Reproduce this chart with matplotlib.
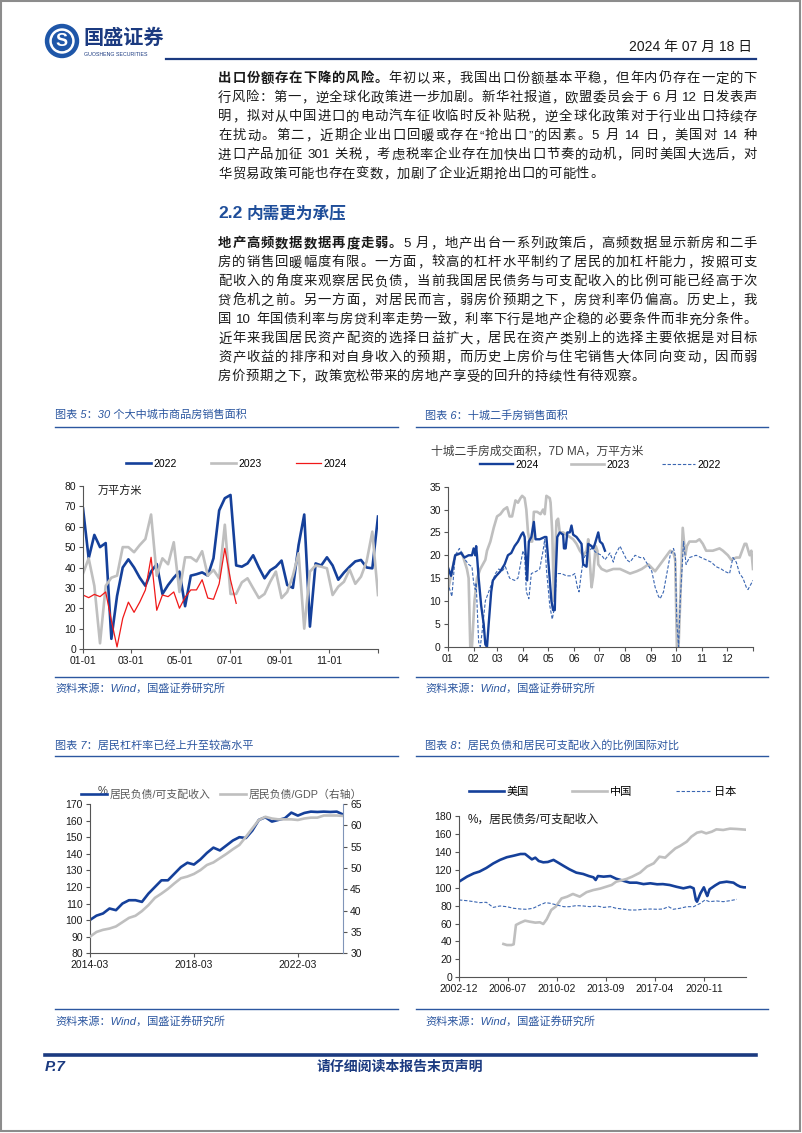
import numpy as np
import matplotlib
matplotlib.use('Agg')
import matplotlib.pyplot as plt
from matplotlib.patches import Rectangle, Circle

plt.rcParams['font.family'] = ['Liberation Sans', 'Noto Sans CJK SC', 'DejaVu Sans']

# ---------------- data ----------------
# chart 5: weekly sales, 30 cities (万平方米)
sales_2022 = [69, 44.5, 56, 50, 52, 5, 26, 40, 44, 40, 35, 31, 38, 41.7, 27, 31.4, 35, 38, 21, 36,
              36.7, 37.6, 36, 44.5, 68, 74, 75.6, 41, 40.4, 42, 46, 40, 34.7, 38.6, 40.4, 43.4, 31.4,
              30, 51, 66, 11, 42, 41, 45, 41, 34, 37.5, 40.4, 43, 43.7, 40, 39.6, 65]
sales_2023 = [37, 44.5, 31, 2.8, 31, 35, 36, 50, 50, 47.5, 51, 54, 66, 36, 44.5, 41.6, 52.4, 28, 45, 45,
              43, 48, 36, 38.8, 34.7, 61, 27, 27, 32.7, 34.7, 29.8, 25, 27, 33, 38, 25, 28, 36, 47, 10,
              38, 41, 40.4, 39.6, 26.5, 30.6, 33, 39, 32, 35.5, 43, 57.6, 26.5]
sales_2024 = [26.5, 25.2, 26.8, 25.7, 28, 14, 1, 15, 23, 18, 23, 29, 45, 19, 26.5, 25.7, 28, 20, 25.4,
              29, 29, 34, 25, 24.4, 32, 49.4, 34, 22.4]
month_days5 = [0, 59, 120, 181, 243, 304, 364]
month_lbl5 = ['01-01', '03-01', '05-01', '07-01', '09-01', '11-01', '']

# chart 6: ten-city second-hand sales, 7D MA (day of year, value)
days_2024 = [0, 4, 9, 16, 20, 25, 29, 31, 33, 34, 35, 37, 40, 43, 45, 47, 49, 52, 54, 58, 63, 68, 72,
             76, 80, 84, 88, 90, 92, 95, 97, 100, 103, 105, 110, 116, 118, 124, 126, 128, 129, 131,
             134, 138, 139, 141, 143, 146, 148, 150, 154, 158, 160, 162, 166, 168, 172, 174, 176,
             180, 182, 185, 188]
vals_2024 = [17.5, 15.5, 20, 20.5, 19.5, 20, 20, 21.5, 20, 22, 20, 15, 9, 5, 0.5, 0, 5, 12, 14.5,
             15.5, 16.5, 18, 20, 20.5, 22, 23, 24.5, 25, 24, 14.5, 23, 24, 27.3, 23.5, 23.5, 24, 24,
             10, 8, 8, 15, 24, 25, 24.5, 21.5, 21.5, 25, 25, 26.5, 24.5, 24, 23, 22.5, 18, 17.5,
             22.5, 22, 21.5, 22.5, 25, 23, 22.5, 21]
days_2023 = [0, 9, 17, 23, 25, 27, 29, 32, 35, 39, 45, 47, 51, 55, 59, 63, 67, 71, 74, 77, 81, 84, 87,
             89, 92, 94, 96, 98, 101, 103, 107, 111, 114, 116, 118, 122, 123, 125, 127, 128, 130,
             132, 134, 138, 142, 146, 150, 154, 158, 162, 166, 168, 172, 174, 175, 177, 179, 180,
             184, 190, 198, 206, 212, 218, 226, 232, 240, 248, 254, 260, 266, 270, 272, 274, 276,
             278, 281, 284, 286, 289, 297, 301, 305, 309, 317, 325, 329, 335, 339, 345, 349, 355,
             357, 361, 363, 365]
vals_2023 = [12, 20, 20.5, 17, 15, 0, 0, 10, 15, 17, 19, 21, 23, 26, 28.5, 29, 30, 30.5, 28.5, 28.5,
             32, 31.5, 32.5, 33, 32.5, 30, 25, 23, 23, 29.5, 29.5, 29, 30, 29, 33, 32.5, 31.5, 25, 10,
             17, 27.5, 28, 25, 25, 24.5, 24, 23.5, 22.5, 21, 20, 21, 23.5, 13, 15.5, 18, 22, 21, 18,
             17, 16.5, 17, 17, 16.5, 16, 16.5, 17, 18, 16.5, 18, 19.5, 21, 20.5, 19, 0, 0, 10, 26,
             20, 22, 23, 23, 23.5, 22.5, 21, 21, 21.5, 21, 20, 19, 19.5, 19.5, 22.5, 22.5, 20, 21, 17]
days_2022 = [0, 5, 9, 14, 17, 21, 25, 29, 31, 33, 34, 37, 39, 41, 45, 49, 53, 57, 61, 65, 69, 74, 80,
             84, 86, 90, 92, 94, 97, 100, 106, 110, 114, 116, 118, 122, 125, 128, 130, 136, 142, 148,
             152, 155, 157, 159, 162, 166, 172, 178, 184, 188, 194, 198, 200, 206, 210, 214, 218,
             224, 230, 234, 239, 244, 248, 252, 254, 258, 262, 266, 270, 272, 274, 276, 278, 282,
             285, 289, 297, 303, 309, 315, 321, 327, 331, 337, 341, 345, 349, 353, 357, 359, 365]
vals_2022 = [14, 11, 20, 21.5, 20.5, 19, 18, 17.5, 14, 12.5, 14, 1, 0, 3, 10, 12, 14, 16, 17, 16.5,
             17.5, 15, 14.5, 15, 17, 21, 20, 12, 10.5, 16, 16.5, 17, 21, 23.5, 17, 9, 6, 9, 16, 16,
             15.5, 15.5, 16, 13, 12, 15, 19, 20.5, 21.5, 20.5, 20, 19, 20.5, 18.5, 20, 22, 20.5, 19,
             18.5, 20, 19.5, 19.5, 18, 16.5, 13, 11, 10.5, 12, 16, 20, 21.5, 20, 5, 0, 10, 23, 18,
             19.5, 20, 19.5, 19, 18.5, 17.5, 17, 16.5, 16, 19.5, 18.5, 16, 15, 13, 12.5, 14.5]
month_days6 = [0, 31, 59, 90, 120, 151, 181, 212, 243, 273, 304, 334, 365]
month_lbl6 = ['01', '02', '03', '04', '05', '06', '07', '08', '09', '10', '11', '12', '']

# chart 7: household leverage, quarterly from 2014-03
debt_income = [100.1, 102.7, 104, 107, 106, 110, 112, 112, 111, 116, 120, 124, 124, 128, 132, 134.6,
               133.5, 136.6, 140.5, 143.7, 142, 145, 148, 150, 149.5, 154, 160.4, 162, 159.4, 160.4,
               161.4, 164.8, 163, 164.6, 165.4, 165.2, 165.4, 165.2, 165.4, 163.6]
debt_gdp = [33.9, 35, 35.5, 35.8, 36.3, 37.3, 38.3, 38.8, 39.9, 41.3, 43, 44, 45.1, 46.4, 47.6, 48,
            48.6, 49.5, 50.7, 51.3, 52.3, 53.3, 54.4, 55.4, 57.3, 59.3, 61.25, 62, 61.6, 61.4, 61.4,
            61.4, 61.25, 61.6, 61.8, 61.8, 62.3, 62.3, 62.3, 62.2]
q_ticks = [0, 16, 32]
q_lbl = ['2014-03', '2018-03', '2022-03']

# chart 8: debt / disposable income, months since 2002-12
us_m = [0, 7, 13, 18, 24, 30, 36, 42, 48, 54, 58, 61, 64, 67, 70, 74, 78, 83, 87, 92, 97, 103, 109,
        114, 118, 120, 122, 127, 133, 138, 144, 150, 156, 162, 168, 174, 179, 185, 191, 197, 203,
        206, 208, 209, 212, 215, 217, 218, 220, 225, 229, 235, 241, 244, 247, 250, 252]
us_v = [106.7, 112.3, 116, 118, 122, 127, 131, 134, 135.7, 137.6, 137.6, 134.6, 131.6, 133.5, 129.8,
        128.3, 128.7, 131, 128, 124.2, 120.5, 116.8, 115.3, 113, 111.6, 108.6, 113, 112.3, 113, 110,
        107.8, 105.6, 105.6, 104, 104.9, 103.8, 104, 103, 101, 99.3, 101, 99.3, 86.3, 84.4, 93.7,
        100.4, 93.7, 90.7, 98.2, 102.6, 105.6, 106.7, 105.6, 103, 101.1, 100.4, 100.4]
cn_m = [39, 42, 46, 48, 50, 54, 58, 62, 67, 71, 74, 77, 81, 85, 90, 95, 100, 106, 112, 118, 124, 129,
        134, 138, 147, 152, 159, 165, 171, 176, 181, 185, 190, 194, 200, 204, 209, 213, 217, 222,
        226, 232, 238, 244, 252]
cn_v = [37.2, 36, 36, 36.8, 58.4, 61, 63.2, 62.1, 61, 61.4, 59.5, 64.7, 75.1, 79, 88, 90, 93, 90,
        95, 97.4, 99, 101, 103, 106.7, 109.7, 112.3, 116.8, 123.5, 127.2, 134.6, 133.5, 138.3,
        143.9, 146.5, 151.4, 156.9, 161.4, 162.5, 160.6, 162.5, 165.1, 164.4, 165.9, 165.5, 164.7]
jp_m = [0, 7, 13, 18, 24, 30, 36, 42, 48, 54, 59, 65, 71, 76, 80, 86, 92, 97, 103, 109, 115, 121, 127,
        133, 138, 144, 150, 156, 162, 168, 174, 179, 184, 188, 194, 200, 206, 212, 216, 220, 226,
        232, 238, 244]
jp_v = [86.3, 85.5, 84.4, 83.3, 83.7, 78, 79.6, 78.8, 77, 76.2, 75.9, 77, 80.7, 83.3, 82.6, 80.7,
        78.8, 78.8, 80, 79.6, 78.8, 79.6, 78, 78.8, 77, 76.2, 75.1, 75.1, 75.9, 76.2, 75.9, 76.2,
        78.8, 75.9, 77, 78.8, 78.8, 82.6, 86.3, 84.4, 85.2, 84.4, 85.5, 87]
m_ticks = [0, 43, 86, 129, 172, 215]
m_lbl = ['2002-12', '2006-07', '2010-02', '2013-09', '2017-04', '2020-11']

# ---------------- page ----------------
W, H = 802, 1133
NAVY = '#1B3A80'
BLUE = '#15409A'
GRAY = '#BFBFBF'
DASH = '#3A66B2'
RED = '#F01818'
TBLUE = '#2C57A0'
SPINE = '#555555'
TEXT = '#1a1a1a'

fig = plt.figure(figsize=(W / 100, H / 100), dpi=100)
page = fig.add_axes([0, 0, 1, 1])
page.set_xlim(0, W)
page.set_ylim(H, 0)
page.axis('off')
renderer = fig.canvas.get_renderer()

page.add_patch(Rectangle((1, 1), W - 3, H - 3, fill=False, ec='#8c8c8c', lw=1.5))

# header
page.add_patch(Circle((62, 41), 16.5, color='#1E56A8'))
page.add_patch(Circle((62, 41), 12, color='white'))
page.add_patch(Circle((62, 41), 9.5, color='#1E56A8'))
page.text(62, 41.5, 'S', color='white', fontsize=13, fontweight='bold', ha='center', va='center')
page.text(83, 38, '国盛证券', color=NAVY, fontsize=14.5, fontweight='bold', va='center')
page.text(84, 54, 'GUOSHENG SECURITIES', color=NAVY, fontsize=3.8, va='center')
page.text(752, 47, '2024 年 07 月 18 日', color=TEXT, fontsize=10, ha='right', va='center')
page.plot([166, 756], [59, 59], color=NAVY, lw=1.6)


def put_line(y, parts, justify=True, x0=218, x1=757, size=9.6):
    toks = []
    for s, w in parts:
        buf = ''
        for ch in s:
            if ch.isascii() and ch != ' ':
                buf += ch
                continue
            if buf:
                toks.append((buf, w))
                buf = ''
            toks.append((ch, w))
        if buf:
            toks.append((buf, w))
    objs, widths = [], []
    for s, w in toks:
        if s == ' ':
            objs.append(None)
            widths.append(size * 100 / 72 * 0.28)
            continue
        t = page.text(0, y, s, fontsize=size, fontweight=w, va='center', ha='left', color=TEXT)
        objs.append(t)
        widths.append(t.get_window_extent(renderer).width)
    gap = (x1 - x0 - sum(widths)) / (len(toks) - 1) if justify else 0.4
    x = x0
    for t, wd in zip(objs, widths):
        if t is not None:
            t.set_x(x)
        x += wd + gap


para1 = [
    [('出口份额存在下降的风险。', 'bold'), ('年初以来，我国出口份额基本平稳，但年内仍存在一定的下', 'normal')],
    [('行风险：第一，逆全球化政策进一步加剧。新华社报道，欧盟委员会于 6 月 12 日发表声', 'normal')],
    [('明，拟对从中国进口的电动汽车征收临时反补贴税，逆全球化政策对于行业出口持续存', 'normal')],
    [('在扰动。第二，近期企业出口回暖或存在“抢出口”的因素。5 月 14 日，美国对 14 种', 'normal')],
    [('进口产品加征 301 关税，考虑税率企业存在加快出口节奏的动机，同时美国大选后，对', 'normal')],
    [('华贸易政策可能也存在变数，加剧了企业近期抢出口的可能性。', 'normal')],
]
para2 = [
    [('地产高频数据数据再度走弱。', 'bold'), ('5 月，地产出台一系列政策后，高频数据显示新房和二手', 'normal')],
    [('房的销售回暖幅度有限。一方面，较高的杠杆水平制约了居民的加杠杆能力，按照可支', 'normal')],
    [('配收入的角度来观察居民负债，当前我国居民债务与可支配收入的比例可能已经高于次', 'normal')],
    [('贷危机之前。另一方面，对居民而言，弱房价预期之下，房贷利率仍偏高。历史上，我', 'normal')],
    [('国 10 年国债利率与房贷利率走势一致，利率下行是地产企稳的必要条件而非充分条件。', 'normal')],
    [('近年来我国居民资产配资的选择日益扩大，居民在资产类别上的选择主要依据是对目标', 'normal')],
    [('资产收益的排序和对自身收入的预期，而历史上房价与住宅销售大体同向变动，因而弱', 'normal')],
    [('房价预期之下，政策宽松带来的房地产享受的回升的持续性有待观察。', 'normal')],
]
for i, ln in enumerate(para1):
    put_line(79 + i * 19.1, ln, justify=i < len(para1) - 1)
page.text(218, 214, '2.2', color='#1F4E9A', fontsize=12.5, fontweight='bold', va='center')
page.text(247, 214, '内需更为承压', color='#1F4E9A', fontsize=12, fontweight='bold', va='center')
for i, ln in enumerate(para2):
    put_line(244 + i * 19, ln, justify=i < len(para2) - 1)

# chart frames: titles, separator lines, sources
for x0, x1, tx, title in [(55, 398, 55, '图表 5：30 个大中城市商品房销售面积'),
                          (416, 768, 425, '图表 6：十城二手房销售面积')]:
    page.text(tx, 415, title, color=TBLUE, fontsize=8, style='italic', va='center')
    page.plot([x0, x1], [427, 427], color=TBLUE, lw=1)
    page.plot([x0, x1], [677, 677], color=TBLUE, lw=1)
    page.text(tx, 688, '资料来源：Wind，国盛证券研究所', color=TBLUE, fontsize=8, style='italic', va='center')
for x0, x1, tx, title in [(55, 398, 55, '图表 7：居民杠杆率已经上升至较高水平'),
                          (416, 768, 425, '图表 8：居民负债和居民可支配收入的比例国际对比')]:
    page.text(tx, 745, title, color=TBLUE, fontsize=8, style='italic', va='center')
    page.plot([x0, x1], [756, 756], color=TBLUE, lw=1)
    page.plot([x0, x1], [1009, 1009], color=TBLUE, lw=1)
    page.text(tx, 1021, '资料来源：Wind，国盛证券研究所', color=TBLUE, fontsize=8, style='italic', va='center')

# footer
page.plot([45, 756], [1055, 1055], color=NAVY, lw=2.6)
page.text(45, 1067, 'P.7', color=NAVY, fontsize=11, fontweight='bold', style='italic', va='center')
page.text(400, 1067, '请仔细阅读本报告末页声明', color=NAVY, fontsize=10, fontweight='bold',
          style='italic', ha='center', va='center')


def px_axes(x0, y0, x1, y1):
    return fig.add_axes([x0 / W, 1 - y1 / H, (x1 - x0) / W, (y1 - y0) / H])


def style(ax):
    for s in ['top', 'right']:
        ax.spines[s].set_visible(False)
    for s in ['left', 'bottom']:
        ax.spines[s].set_color(SPINE)
        ax.spines[s].set_linewidth(0.8)
    ax.tick_params(direction='out', length=3, width=0.8, color=SPINE, labelsize=7.5, pad=2,
                   labelcolor=TEXT)
    ax.patch.set_alpha(0)


# chart 5
ax5 = px_axes(83, 486, 378, 649)
weeks = np.arange(len(sales_2022)) * 7
ax5.plot(weeks, sales_2022, color=BLUE, lw=1.9, label='2022')
ax5.plot(weeks[:len(sales_2023)], sales_2023, color=GRAY, lw=1.9, label='2023')
ax5.plot(weeks[:len(sales_2024)], sales_2024, color=RED, lw=0.9, label='2024')
ax5.set_xlim(0, 364)
ax5.set_ylim(0, 80)
ax5.set_yticks(range(0, 81, 10))
ax5.set_xticks(month_days5)
ax5.set_xticklabels(month_lbl5)
style(ax5)
ax5.text(0.05, 0.975, '万平方米', transform=ax5.transAxes, fontsize=8, va='center', color=TEXT)
ax5.legend(ncol=3, loc='center', bbox_to_anchor=(0.52, 1.135), frameon=False, fontsize=7.5,
           handlelength=2.4, handletextpad=0.2, columnspacing=3.3)

# chart 6
ax6 = px_axes(447.7, 486.7, 753, 646.7)
h23, = ax6.plot(days_2023, vals_2023, color=GRAY, lw=1.9, label='2023')
h22, = ax6.plot(days_2022, vals_2022, color=DASH, lw=0.8, ls=(0, (3, 1.6)), label='2022')
h24, = ax6.plot(days_2024, vals_2024, color=BLUE, lw=1.7, label='2024')
ax6.set_xlim(0, 365)
ax6.set_ylim(0, 35)
ax6.set_yticks(range(0, 36, 5))
ax6.set_xticks(month_days6)
ax6.set_xticklabels(month_lbl6)
style(ax6)
page.text(431, 452, '十城二手房成交面积，7D MA，万平方米', fontsize=8.5, color='#404040', va='center')
ax6.legend(handles=[h24, h23, h22], ncol=3, loc='center', bbox_to_anchor=(0.5, 1.135),
           frameon=False, fontsize=7.5, handlelength=3.2, handletextpad=0.2, columnspacing=3.1)

# chart 7
ax7 = px_axes(90, 804, 343.3, 953.3)
qs = np.arange(len(debt_income))
l1, = ax7.plot(qs, debt_income, color=BLUE, lw=1.9, label='居民负债/可支配收入')
ax7b = ax7.twinx()
l2, = ax7b.plot(qs, debt_gdp, color=GRAY, lw=1.9, label='居民负债/GDP（右轴）')
ax7.set_xlim(0, len(debt_income) - 1)
ax7.set_ylim(80, 170)
ax7.set_yticks(range(80, 171, 10))
ax7b.set_ylim(30, 65)
ax7b.set_yticks(range(30, 66, 5))
ax7.set_xticks(q_ticks)
ax7.set_xticklabels(q_lbl)
style(ax7)
ax7b.spines['top'].set_visible(False)
ax7b.spines['left'].set_visible(False)
ax7b.spines['bottom'].set_visible(False)
ax7b.spines['right'].set_color('#8095B8')
ax7b.spines['right'].set_linewidth(0.8)
ax7b.tick_params(direction='out', length=3, width=0.8, color=SPINE, labelsize=7.5, pad=2,
                 labelcolor=TEXT)
page.text(98, 791, '%', fontsize=8, color='#404040', va='center')
ax7b.legend(handles=[l1, l2], ncol=2, loc='center', bbox_to_anchor=(0.52, 1.062), frameon=False,
            fontsize=7.8, handlelength=2.4, handletextpad=0.2, columnspacing=0.9,
            labelcolor='#595959')

# chart 8
ax8 = px_axes(459, 816, 746, 977.3)
ax8.plot(us_m, us_v, color=BLUE, lw=1.9, label='美国')
ax8.plot(cn_m, cn_v, color=GRAY, lw=1.9, label='中国')
ax8.plot(jp_m, jp_v, color=DASH, lw=0.8, ls=(0, (3, 1.6)), label='日本')
ax8.set_xlim(0, 252)
ax8.set_ylim(0, 180)
ax8.set_yticks(range(0, 181, 20))
ax8.set_xticks(m_ticks)
ax8.set_xticklabels(m_lbl)
style(ax8)
ax8.text(0.031, 0.975, '%，居民债务/可支配收入', transform=ax8.transAxes, fontsize=8.5,
         va='center', color=TEXT)
ax8.legend(ncol=3, loc='center', bbox_to_anchor=(0.5, 1.15), frameon=False, fontsize=8,
           handlelength=3.1, handletextpad=0.3, columnspacing=3.9)

fig.savefig('out.png', dpi=100)
